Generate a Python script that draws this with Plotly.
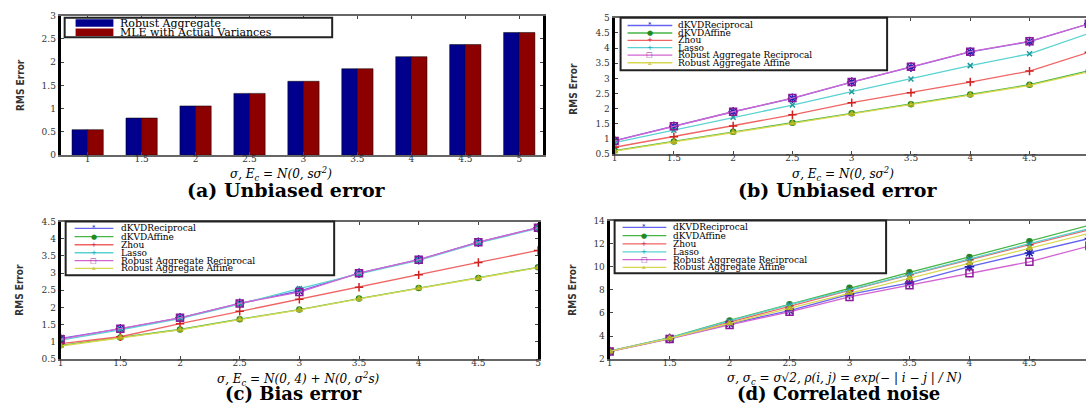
import plotly.graph_objects as go

W, H = 1089, 407

# ---------------- data ----------------
sigma = [1, 1.5, 2, 2.5, 3, 3.5, 4, 4.5, 5]
sigma_labels = ["1", "1.5", "2", "2.5", "3", "3.5", "4", "4.5", "5"]

# (a) Unbiased error, bar chart
bar_names = ["Robust Aggregate", "MLE with Actual Variances"]
a_robust = [0.55, 0.80, 1.06, 1.33, 1.59, 1.86, 2.12, 2.38, 2.64]
a_mle = [0.55, 0.80, 1.06, 1.33, 1.59, 1.86, 2.12, 2.38, 2.64]
a_yticks = [0, 0.5, 1, 1.5, 2, 2.5, 3]
a_ylabels = ["0", "0.5", "1", "1.5", "2", "2.5", "3"]

series_names = ["dKVDReciprocal", "dKVDAffine", "Zhou", "Lasso",
                "Robust Aggregate Reciprocal", "Robust Aggregate Affine"]

# (b) Unbiased error
b_dkvd_rec = [0.95, 1.42, 1.90, 2.34, 2.88, 3.37, 3.87, 4.21, 4.80]
b_dkvd_aff = [0.62, 0.92, 1.24, 1.54, 1.85, 2.15, 2.47, 2.79, 3.25]
b_zhou = [0.73, 1.08, 1.43, 1.80, 2.20, 2.53, 2.88, 3.24, 3.86]
b_lasso = [0.88, 1.29, 1.72, 2.12, 2.56, 2.98, 3.42, 3.81, 4.48]
b_ra_rec = [0.94, 1.42, 1.90, 2.35, 2.88, 3.38, 3.88, 4.22, 4.80]
b_ra_aff = [0.60, 0.90, 1.22, 1.52, 1.83, 2.13, 2.45, 2.77, 3.22]
b_yticks = [0.5, 1, 1.5, 2, 2.5, 3, 3.5, 4, 4.5, 5]
b_ylabels = ["0.5", "1", "1.5", "2", "2.5", "3", "3.5", "4", "4.5", "5"]

# (c) Bias error
c_dkvd_rec = [1.10, 1.38, 1.70, 2.12, 2.48, 3.00, 3.39, 3.90, 4.32]
c_dkvd_aff = [0.90, 1.13, 1.36, 1.66, 1.94, 2.26, 2.57, 2.86, 3.17]
c_zhou = [0.95, 1.15, 1.53, 1.89, 2.24, 2.59, 2.95, 3.31, 3.66]
c_lasso = [1.05, 1.35, 1.68, 2.10, 2.55, 2.98, 3.37, 3.88, 4.30]
c_ra_rec = [1.08, 1.38, 1.70, 2.12, 2.45, 3.00, 3.39, 3.90, 4.32]
c_ra_aff = [0.88, 1.12, 1.35, 1.65, 1.93, 2.25, 2.56, 2.85, 3.16]
c_yticks = [0.5, 1, 1.5, 2, 2.5, 3, 3.5, 4, 4.5]
c_ylabels = ["0.5", "1", "1.5", "2", "2.5", "3", "3.5", "4", "4.5"]

# (d) Correlated noise
d_dkvd_rec = [2.66, 3.78, 5.05, 6.20, 7.60, 8.60, 10.00, 11.20, 12.45]
d_dkvd_aff = [2.68, 3.85, 5.35, 6.76, 8.17, 9.52, 10.85, 12.20, 13.60]
d_zhou = [2.68, 3.82, 5.20, 6.60, 7.95, 9.30, 10.60, 11.90, 13.20]
d_lasso = [2.68, 3.83, 5.30, 6.72, 8.00, 9.35, 10.70, 12.00, 13.30]
d_ra_rec = [2.65, 3.75, 4.96, 6.10, 7.38, 8.40, 9.44, 10.43, 11.80]
d_ra_aff = [2.66, 3.80, 5.10, 6.40, 7.75, 9.00, 10.30, 11.60, 12.90]
d_yticks = [2, 4, 6, 8, 10, 12, 14]
d_ylabels = ["2", "4", "6", "8", "10", "12", "14"]

# ---------------- styles ----------------
line_colors = ["#6464f0", "#46b446", "#f06464", "#5ad2d2", "#d264d2", "#d8d850"]
marker_colors = ["#2020b0", "#1f8a1f", "#d02020", "#209a9a", "#8a1a9a", "#b0b020"]
marker_symbols = ["asterisk-open", "circle", "cross-thin-open", "x-thin-open",
                  "square-open", "triangle-up-open"]
marker_sizes = [8, 5, 6, 5, 7, 5]
legend_glyphs = ["*", "●", "+", "+", "□", "▵"]
bar_colors = ["#00008c", "#8c0000"]

SERIF = "DejaVu Serif"
TICKFONT = dict(family=SERIF, size=9, color="#333")


def px(x):
    return x / W


def py(y):
    return 1 - y / H


fig = go.Figure()

# (a) bars
for name, vals, col in zip(bar_names, [a_robust, a_mle], bar_colors):
    fig.add_trace(go.Bar(x=sigma, y=vals, name=name,
                         marker=dict(color=col, line=dict(color="black", width=0.5)),
                         xaxis="x", yaxis="y", showlegend=False))

panels = [
    ("x2", "y2", [b_dkvd_rec, b_dkvd_aff, b_zhou, b_lasso, b_ra_rec, b_ra_aff]),
    ("x3", "y3", [c_dkvd_rec, c_dkvd_aff, c_zhou, c_lasso, c_ra_rec, c_ra_aff]),
    ("x4", "y4", [d_dkvd_rec, d_dkvd_aff, d_zhou, d_lasso, d_ra_rec, d_ra_aff]),
]
for xa, ya, data in panels:
    for i, vals in enumerate(data):
        fig.add_trace(go.Scatter(
            x=sigma, y=vals, name=series_names[i], mode="lines+markers",
            line=dict(color=line_colors[i], width=1.3),
            marker=dict(symbol=marker_symbols[i], size=marker_sizes[i], color=marker_colors[i],
                        line=dict(color=marker_colors[i], width=1.5)),
            xaxis=xa, yaxis=ya, showlegend=False))


def xaxis(domain, rng, anchor):
    return dict(domain=domain, range=rng, anchor=anchor, tickvals=sigma, ticktext=sigma_labels,
                ticks="inside", ticklen=3, tickcolor="#444", showline=True, linecolor="#666",
                linewidth=2, mirror="ticks", showgrid=False, zeroline=False, tickfont=TICKFONT,
                ticklabelstandoff=-6)


def yaxis(domain, rng, anchor, tv, tt, mirror):
    return dict(domain=domain, range=rng, anchor=anchor, tickvals=tv, ticktext=tt,
                ticks="inside", ticklen=3, tickcolor="#444", showline=True, linecolor="black",
                linewidth=3, mirror=mirror, showgrid=False, zeroline=False, tickfont=TICKFONT)


dom_a = ([px(58), px(543)], [py(154), py(11)])
dom_b = ([px(615), 1.0], [py(153), py(13)])
dom_c = ([px(58), px(538)], [py(363), py(222)])
dom_d = ([px(610), 1.0], [py(363), py(221)])

fig.update_layout(
    width=W, height=H, margin=dict(l=0, r=0, t=0, b=0),
    paper_bgcolor="white", plot_bgcolor="white",
    barmode="group", bargap=0.42, bargroupgap=0,
    xaxis=xaxis(dom_a[0], [0.75, 5.22], "y"),
    yaxis=yaxis(dom_a[1], [0, 3], "x", a_yticks, a_ylabels, "ticks"),
    xaxis2=xaxis(dom_b[0], [1, 1 + (W - 615) / 119.2], "y2"),
    yaxis2=yaxis(dom_b[1], [0.5, 5], "x2", b_yticks, b_ylabels, False),
    xaxis3=xaxis(dom_c[0], [1, 5], "y3"),
    yaxis3=yaxis(dom_c[1], [0.5, 4.5], "x3", c_yticks, c_ylabels, "ticks"),
    xaxis4=xaxis(dom_d[0], [1, 1 + (W - 610) / 120.6], "y4"),
    yaxis4=yaxis(dom_d[1], [2, 14], "x4", d_yticks, d_ylabels, False),
)

shapes = []
annotations = []


def text(x, y, s, size, family=SERIF, xanchor="center", angle=0, color="black"):
    annotations.append(dict(x=px(x), y=py(y), xref="paper", yref="paper", text=s, showarrow=False,
                            xanchor=xanchor, yanchor="middle", textangle=angle,
                            font=dict(family=family, size=size, color=color)))


def box(x0, y0, x1, y1):
    shapes.append(dict(type="rect", xref="paper", yref="paper", x0=px(x0), y0=py(y1), x1=px(x1), y1=py(y0),
                       line=dict(color="#222", width=2), fillcolor="white", layer="above"))


# legend (a)
box(62, 13, 331, 33)
for name, col, yy in zip(bar_names, bar_colors, [18.5, 28]):
    shapes.append(dict(type="rect", xref="paper", yref="paper", x0=px(73), x1=px(111),
                       y0=py(yy + 3.8), y1=py(yy - 3.8), fillcolor=col, line=dict(width=0), layer="above"))
    text(116, yy, name, 11, xanchor="left")

# line legends
legend_specs = [
    ((621, 13, 889, 67), [21, 28.7, 36.2, 43.7, 51.3, 59.2], 628, 673, 677),
    ((63, 222, 333, 277), [229, 237.5, 245.8, 254, 262, 270], 72, 111, 117),
    ((615, 221, 888, 275), [228, 236.5, 244.8, 253, 261, 269], 623, 667, 672),
]
for (bx0, by0, bx1, by1), rows, lx0, lx1, tx in legend_specs:
    box(bx0, by0, bx1, by1)
    for i, yy in enumerate(rows):
        shapes.append(dict(type="line", xref="paper", yref="paper", x0=px(lx0), x1=px(lx1),
                           y0=py(yy), y1=py(yy), line=dict(color=line_colors[i], width=1.3), layer="above"))
        text((lx0 + lx1) / 2, yy, legend_glyphs[i], 7, family="DejaVu Sans", color=marker_colors[i])
        text(tx, yy, series_names[i], 9, xanchor="left")

# y titles
for x, y in [(18, 82), (574, 86), (17, 292), (573, 292)]:
    text(x, y, "<b>RMS Error</b>", 10, family="Liberation Sans Narrow, DejaVu Sans Condensed", angle=-90,
         color="#333")

# x titles
xt1 = "<i>σ, E<sub>c</sub> = N(0, sσ<sup>2</sup>)</i>"
xt3 = "<i>σ, E<sub>c</sub> = N(0, 4) + N(0, σ<sup>2</sup>s)</i>"
xt4 = "<i>σ, σ<sub>c</sub> = σ√2, ρ(i, j) = exp(− | i − j | / N)</i>"
text(280, 173, xt1, 12)
text(845, 173, xt1, 12)
text(297, 383, xt3, 12)
text(846, 383, xt4, 12)

# captions
text(285, 190, "<b>(a) Unbiased error</b>", 19)
text(840, 190, "<b>(b) Unbiased error</b>", 19)
text(292, 398, "<b>(c) Bias error</b>", 18)
text(840, 398, "<b>(d) Correlated noise</b>", 18)

fig.update_layout(shapes=shapes, annotations=annotations)

fig.write_html("out.html", config={"displayModeBar": False},
               post_script="document.body.style.margin='0';document.body.style.overflow='hidden';")
